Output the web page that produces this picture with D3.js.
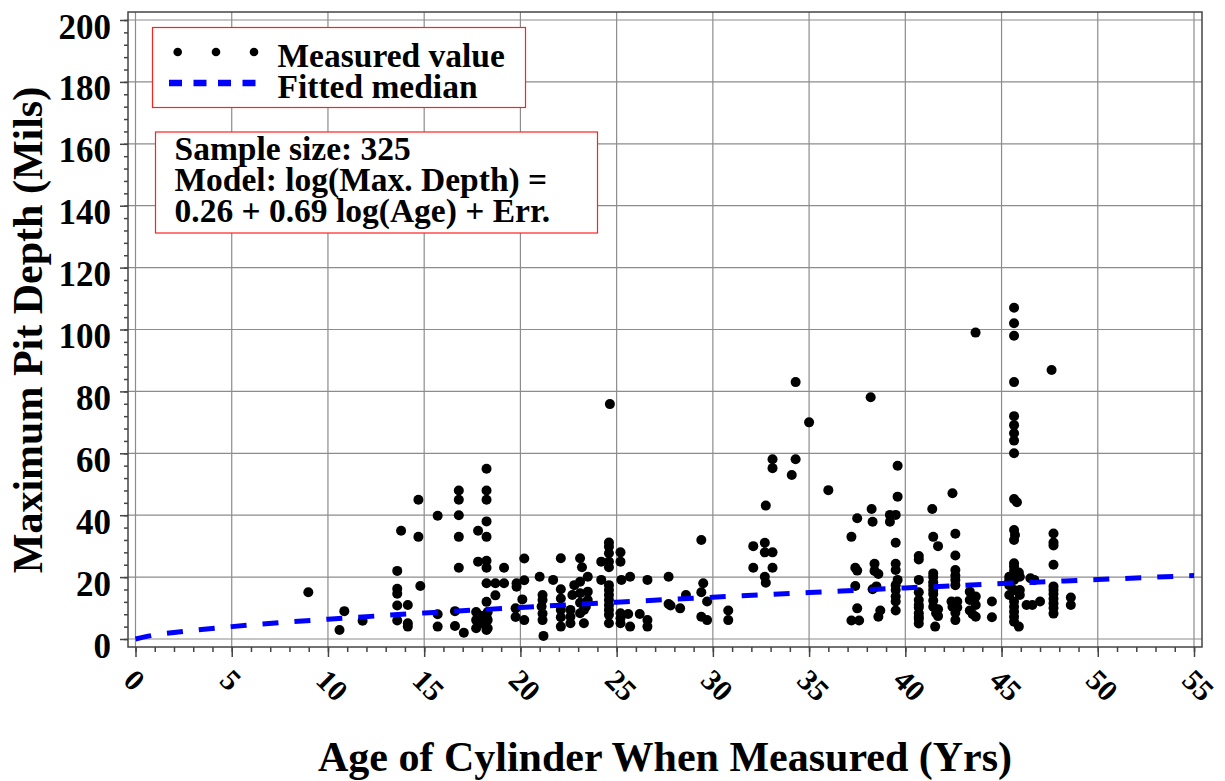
<!DOCTYPE html>
<html>
<head>
<meta charset="utf-8">
<script src="https://cdn.jsdelivr.net/npm/d3@7"></script>
<style>
  body { margin: 0; background: #fff; }
  text { font-family: "Liberation Serif", "Times New Roman", serif; font-weight: bold; fill: #000; }
</style>
</head>
<body>
<div id="chart"></div>
<script>
// measured points: age (yrs) and max pit depth (mils)
var ages = [
  8.98, 10.85, 10.6, 11.8,
  13.6, 13.6, 13.6, 13.6, 13.6, 13.8,
  14.15, 14.15, 14.15, 14.7, 14.7, 14.8,
  15.7, 15.7, 15.7,
  16.8, 16.8, 16.8, 16.8, 16.8, 16.6, 16.6, 17.06,
  17.8, 17.8, 17.7, 17.7, 17.7, 18.3, 18.3, 18.3, 17.95, 17.95,
  18.24, 18.24, 18.24, 18.24, 18.24, 18.24, 18.24, 18.24, 18.24, 18.24, 18.24,
  18.7, 18.7, 19.15, 19.15,
  19.8, 19.8, 20.1, 19.75, 19.75, 20.2, 20.2, 20.2,
  21, 21.15, 21.15, 21.15, 21.15, 21.2, 21.1, 21.7, 22.1,
  22.1, 22.1, 22.1, 22.1, 22.1, 22.6, 22.6, 22.6, 22.8, 22.7,
  23.1, 23.2, 23.1, 23.1, 23.1, 23.3, 23.3, 23.1,
  23.5, 23.5, 23.5, 23.4, 24.2, 24.2,
  24.65, 24.6, 24.6, 24.6, 24.6, 24.6, 24.6, 24.6, 24.6, 24.6, 24.6, 24.6, 24.6, 24.6,
  25.2, 25.2, 25.25, 25.7, 25.2, 25.2, 25.2, 25.6, 25.7,
  26.2, 26.6, 26.6, 26.6,
  27.7, 27.7, 27.8, 28.3, 28.6,
  29.4, 29.5, 29.4, 29.7, 29.4, 29.7,
  30.8, 30.8,
  32.75, 32.1, 32.1, 32.7, 32.7, 33.1, 33.1, 32.7, 32.75, 33.1, 33.1,
  34.3, 34.3, 34.1, 35, 36,
  37.5, 37.2, 37.4, 37.5, 37.4, 37.5, 37.2, 37.6,
  38.2, 38.25, 38.3, 38.4, 38.4, 38.6, 38.3, 38.5, 38.7, 38.6,
  39.6, 39.6, 39.2, 39.5, 39.2, 39.5, 39.5, 39.5, 39.6, 39.5, 39.5, 39.5, 39.5, 39.5,
  40.7, 40.7, 40.7, 40.7, 40.7, 40.7, 40.7, 40.7, 40.7, 40.7, 40.7,
  41.4, 41.45, 41.7, 41.45, 41.45, 41.45, 41.45, 41.45, 41.45, 41.45, 41.45, 41.7, 41.6, 41.7, 41.55,
  42.45, 42.6, 42.6, 42.6, 42.6, 42.6, 42.6, 42.4, 42.7, 42.45, 42.7, 42.6, 42.6,
  43.65, 43.35, 43.66, 43.35, 43.66, 43.35, 43.66, 43.5,
  44.5, 44.5,
  45.65, 45.65, 45.65, 45.65, 45.65, 45.65, 45.65, 45.65, 45.65, 45.65, 45.8,
  45.65, 45.7, 45.65, 45.65, 45.65, 45.4, 45.95, 45.65, 45.4, 45.65, 45.95, 45.4, 45.95,
  45.65, 45.65, 45.65, 45.65, 45.65, 45.9, 45.4, 45.9, 45.65,
  46.5, 46.7, 46.3, 46.6, 47,
  47.6, 47.7, 47.7, 47.7, 47.7, 47.7, 47.7, 47.7, 47.7, 47.7, 47.7, 47.7,
  48.6, 48.6
];
var depths = [
  15.1, 9, 2.9, 5.9,
  22, 16.2, 14.6, 10.8, 6, 35,
  11, 5.1, 4, 45, 33, 17.1,
  39.8, 8, 4,
  48, 45, 40, 33, 23, 9, 4.2, 2,
  35, 25, 8.7, 6.1, 3.5, 8.7, 6.1, 3.5, 7.5, 5,
  55, 48, 45, 38, 33, 25.3, 23, 18, 12, 7.2, 2.9,
  18, 14.1, 23, 18,
  18, 16.9, 12.8, 9.9, 7.1, 26, 19, 6.1,
  20.1, 14.2, 12.6, 8.2, 6.1, 1, 10.5, 19.1, 26.1,
  16.1, 13.1, 9.4, 7, 4, 9.4, 7.2, 5.1, 17.4, 14.2,
  26.1, 23.2, 18.5, 14.8, 11.7, 9.4, 5.1, 8.3,
  20.1, 15.3, 12.6, 10.4, 25, 19.1,
  75.9, 31.2, 29.8, 27.7, 25, 23.2, 17.4, 15.8, 14.2, 12.6, 11, 9.4, 7.8, 5.1,
  28, 25, 19.1, 20.1, 8.3, 6.7, 5.1, 8.1, 4,
  8.1, 19.1, 6.1, 4,
  20.1, 11.3, 10.8, 9.9, 14.2,
  32, 18, 15.1, 12.1, 7.2, 6.1,
  9.2, 6.1,
  43.1, 30, 23, 31.1, 28, 28, 23, 20.1, 18.2, 58.1, 55.2,
  83, 58.1, 53, 70, 48.1,
  39, 33, 23, 22.1, 17.1, 9.9, 6, 6,
  78.1, 42, 37.9, 24.3, 22, 21, 16.1, 17, 9.2, 7.2,
  56, 46, 40.1, 40.1, 37.9, 31.1, 24.3, 22.3, 19.1, 17.4, 15.8, 13.7, 12.1, 9.2,
  26.8, 25.7, 19.1, 15.1, 12.6, 11, 10.2, 8.3, 7.2, 6.5, 5,
  42, 33, 30, 21.2, 20, 18.3, 17.2, 15.8, 14.5, 12.4, 10.4, 9.6, 8.3, 7.4, 4,
  47.1, 34, 27, 22.3, 20.5, 19.1, 17.4, 12.1, 12.1, 10.4, 10.2, 8.5, 6.1,
  99, 15.3, 13.7, 12.6, 11, 9.2, 7.2, 8,
  12.1, 7,
  107, 102, 98, 83, 72, 69.1, 66.5, 64.1, 60, 45.2, 44.2,
  35.2, 33.6, 32, 24.5, 23.4, 20.1, 20.1, 19.1, 17.4, 15.8, 15.8, 14.2, 14.2,
  12.1, 10.4, 8.8, 7.2, 5.6, 4, 19, 21.5, 22,
  19.6, 19.1, 11, 11, 12.1,
  86.9, 34.1, 31.2, 30.2, 24, 17, 15.8, 14.5, 13, 11.5, 10, 8.2,
  13.4, 11
];

// fitted median curve
var fitAges = [0, 1, 2, 3, 5, 7.5, 10, 15, 20, 25, 30, 35, 40, 45, 50, 55];
var fitDepths = [0, 1.3, 2.1, 2.8, 4.0, 5.3, 6.4, 8.4, 10.2, 11.9, 13.5, 15.0, 16.5, 17.9, 19.2, 20.5];

var xTicks = d3.range(0, 56, 5);
var yTicks = d3.range(0, 201, 20);
var legendLabels = ["Measured value", "Fitted median"];
var noteLines = ["Sample size: 325", "Model: log(Max. Depth) =", "0.26 + 0.69 log(Age) + Err."];

var W = 1225, H = 781;
var frame = { left: 128, right: 1202, top: 12, bottom: 647 };

var svg = d3.select("#chart").append("svg")
    .attr("width", W)
    .attr("height", H);

svg.append("rect").attr("width", W).attr("height", H).attr("fill", "#fff");

var x = d3.scaleLinear().domain([0, 55]).range([135.5, 1194]);
var y = d3.scaleLinear().domain([0, 200]).range([639, 20]);

// grid
svg.append("g").selectAll("line")
    .data(xTicks).enter().append("line")
    .attr("x1", function (d) { return x(d); })
    .attr("x2", function (d) { return x(d); })
    .attr("y1", frame.top).attr("y2", frame.bottom)
    .attr("stroke", "#8c8c8c").attr("stroke-width", 1.2);
svg.append("g").selectAll("line")
    .data(yTicks).enter().append("line")
    .attr("y1", function (d) { return y(d); })
    .attr("y2", function (d) { return y(d); })
    .attr("x1", frame.left).attr("x2", frame.right)
    .attr("stroke", "#8c8c8c").attr("stroke-width", 1.2);

// frame
svg.append("rect")
    .attr("x", frame.left).attr("y", frame.top)
    .attr("width", frame.right - frame.left)
    .attr("height", frame.bottom - frame.top)
    .attr("fill", "none").attr("stroke", "#444").attr("stroke-width", 1.5);

// y axis
var yAxis = svg.append("g")
    .attr("transform", "translate(" + frame.left + ",0)")
    .call(d3.axisLeft(y).tickValues(yTicks).tickSize(8).tickPadding(9));
yAxis.select(".domain").remove();
yAxis.selectAll("line").attr("stroke", "#444").attr("stroke-width", 1.5);
yAxis.selectAll("text")
    .attr("dy", null).attr("y", 18)
    .style("font-size", "35px");

var yMinor = svg.append("g")
    .attr("transform", "translate(" + frame.left + ",0)")
    .call(d3.axisLeft(y).tickValues(d3.range(0, 201, 4)).tickSize(4).tickFormat(""));
yMinor.select(".domain").remove();
yMinor.selectAll("line").attr("stroke", "#444").attr("stroke-width", 1.5);

// x axis
var xAxis = svg.append("g")
    .attr("transform", "translate(0," + frame.bottom + ")")
    .call(d3.axisBottom(x).tickValues(xTicks).tickSize(10));
xAxis.select(".domain").remove();
xAxis.selectAll("line").attr("stroke", "#444").attr("stroke-width", 1.5);
xAxis.selectAll("text")
    .attr("x", 0).attr("y", 0).attr("dy", null)
    .attr("text-anchor", "start")
    .attr("transform", "translate(-14,35) rotate(45)")
    .style("font-size", "30px");

var xMinor = svg.append("g")
    .attr("transform", "translate(0," + frame.bottom + ")")
    .call(d3.axisBottom(x).tickValues(d3.range(0, 56, 1)).tickSize(5).tickFormat(""));
xMinor.select(".domain").remove();
xMinor.selectAll("line").attr("stroke", "#444").attr("stroke-width", 1.5);

svg.selectAll(".tick text").attr("font-family", null);

// points
var points = ages.map(function (a, i) { return { x: a, y: depths[i] }; });
svg.append("g").selectAll("circle")
    .data(points).enter().append("circle")
    .attr("cx", function (d) { return x(d.x); })
    .attr("cy", function (d) { return y(d.y); })
    .attr("r", 5)
    .attr("fill", "#000");

// fitted median
var fit = fitAges.map(function (a, i) { return { x: a, y: fitDepths[i] }; });
svg.append("path")
    .datum(fit)
    .attr("fill", "none")
    .attr("stroke", "#0000ff")
    .attr("stroke-width", 5)
    .attr("stroke-dasharray", "16,16")
    .attr("d", d3.line()
        .x(function (d) { return x(d.x); })
        .y(function (d) { return y(d.y); })
        .curve(d3.curveMonotoneX));

// legend box
var leg = svg.append("g");
leg.append("rect")
    .attr("x", 152.5).attr("y", 27.5).attr("width", 373).attr("height", 80)
    .attr("fill", "#fff").attr("stroke", "#ff2020").attr("stroke-width", 1.2);
leg.selectAll("circle")
    .data([177.7, 216, 254]).enter().append("circle")
    .attr("cx", function (d) { return d; }).attr("cy", 52)
    .attr("r", 4.3).attr("fill", "#000");
leg.append("line")
    .attr("x1", 169).attr("x2", 257).attr("y1", 83).attr("y2", 83)
    .attr("stroke", "#0000ff").attr("stroke-width", 6.5)
    .attr("stroke-dasharray", "13,11.5");
leg.selectAll("text")
    .data(legendLabels).enter().append("text")
    .attr("x", 277.5)
    .attr("y", function (d, i) { return 66.5 + i * 31.5; })
    .style("font-size", "33.5px")
    .text(function (d) { return d; });

// note box
var note = svg.append("g");
note.append("rect")
    .attr("x", 155.5).attr("y", 132).attr("width", 442).attr("height", 101)
    .attr("fill", "#fff").attr("stroke", "#ff2020").attr("stroke-width", 1.2);
note.selectAll("text")
    .data(noteLines).enter().append("text")
    .attr("x", 174.5)
    .attr("y", function (d, i) { return 159.5 + i * 31; })
    .style("font-size", "33.5px")
    .text(function (d) { return d; });

// axis titles
svg.append("text")
    .attr("x", 665).attr("y", 771)
    .attr("text-anchor", "middle")
    .style("font-size", "42px")
    .text("Age of Cylinder When Measured (Yrs)");

svg.append("text")
    .attr("transform", "translate(42,330) rotate(-90)")
    .attr("text-anchor", "middle")
    .style("font-size", "42px")
    .text("Maximum Pit Depth (Mils)");
</script>
</body>
</html>
